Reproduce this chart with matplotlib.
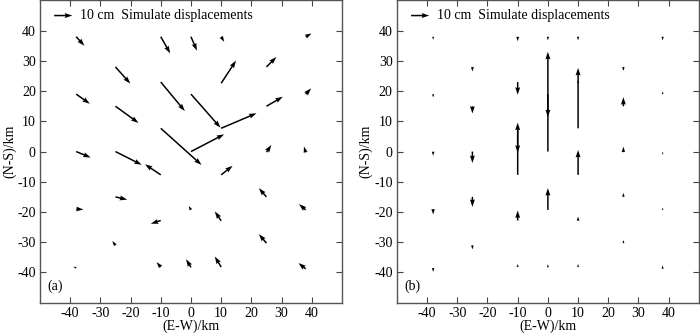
import numpy as np
import matplotlib
matplotlib.use("Agg")
import matplotlib.pyplot as plt

plt.rcParams['font.family'] = ['Liberation Serif', 'DejaVu Serif']
plt.rcParams['font.size'] = 10
plt.rcParams['axes.unicode_minus'] = False

# station positions (km)
sta_x = [-38, -10, 0, 10, 38,
         -25, 10, 25,
         -38, -10, 0, 10, 25, 38,
         -25, -10, 0, -38, -25, 25, 38,
         -10, 10, 25, -38, -25, 0, 10, 38, -10,
         -25, 25, -38, -10, 0, 10, 38]
sta_y = [38, 38, 38, 38, 38,
         28, 22.6, 28,
         19, 23, 19, 7.7, 15, 19,
         15, 7.7, 0, 0, 0, -0.2, -0.3,
         -7.7, -7.7, -15, -19, -15, -19.3, -22.9, -19.3, -22.8,
         -31, -30.3, -38.5, -38.2, -38.3, -38.2, -38.8]

# (a) horizontal displacements (cm), east and north components
a_e = [4.5, 5.2, 3.3, 1.7, 3.2,
       8.2, 8.2, 5.5,
       7.5, 13.3, 16.3, 19.5, 9.0, 3.0,
       12.7, 22.5, 18.3, 8.0, 14.5, 2.7, -1.0,
       -8.7, 6.3, -4.2, 4.0, 6.5, -1.2, -3.5, -3.7, -5.5,
       -1.8, -4.2, -1.5, -2.3, -2.7, -3.5, -4.0]
a_n = [-5.0, -9.2, -7.7, -2.8, 1.8,
       -9.2, 12.5, 5.5,
       -5.3, -16.0, -18.5, 8.3, 5.2, 3.2,
       -9.2, -20.2, 9.5, -3.3, -7.3, 4.0, 3.3,
       5.8, 5.0, 4.8, -0.3, -1.5, 2.2, 5.2, 3.2, -1.8,
       2.3, 5.0, 0.7, 2.7, 4.5, 5.8, 3.2]

# (b) vertical displacements (cm)
b_u = [-1.7, -2.5, -2.0, -2.0, -2.0,
       -2.5, 1.7, -2.2,
       -1.8, -7.0, -12.7, 33.3, 5.0, 1.5,
       -4.0, -13.5, 55.0, -2.3, -6.3, 3.0, -1.3,
       28.8, 13.7, 2.2, -3.0, -5.5, 12.0, 2.3, 1.3, 5.5,
       -2.3, 1.7, -2.2, 1.7, 1.7, 1.7, 1.8]

KM_PER_CM = 0.6   # 10 cm arrow drawn 6 km long
ref_len = 10

ticks = [-40, -30, -20, -10, 0, 10, 20, 30, 40]

fig = plt.figure(figsize=(7.0, 3.34), dpi=100)
ax_a = fig.add_axes([0.0571, 0.0937, 0.4314, 0.905])
ax_b = fig.add_axes([0.567, 0.0937, 0.4314, 0.905])

qkw = dict(angles='xy', scale_units='xy', scale=1 / KM_PER_CM, color='k',
           width=0.005, headwidth=3.3, headlength=5, headaxislength=4.5)

ax_a.quiver(sta_x, sta_y, a_e, a_n, **qkw)
ax_b.quiver(sta_x, sta_y, np.zeros(len(b_u)), b_u, **qkw)

for ax, lab in [(ax_a, '(a)'), (ax_b, '(b)')]:
    ax.quiver([-45.3], [45], [ref_len], [0], **qkw)
    ax.text(-36.8, 45, '10 cm  Simulate displacements', va='center', ha='left')
    ax.text(-47.5, -44.5, lab, va='center', ha='left')
    ax.set_xlim(-50, 50)
    ax.set_ylim(-50, 50)
    ax.set_xticks(ticks)
    ax.set_yticks(ticks)
    ax.tick_params(direction='in', top=True, right=True, length=4,
                   color='#444444', pad=3)
    for s in ax.spines.values():
        s.set_color('#555555')
        s.set_linewidth(1.0)
    ax.set_xlabel('(E-W)/km', labelpad=0)
    ax.set_ylabel('(N-S)/km', labelpad=1)

fig.savefig('out.png', dpi=100)
